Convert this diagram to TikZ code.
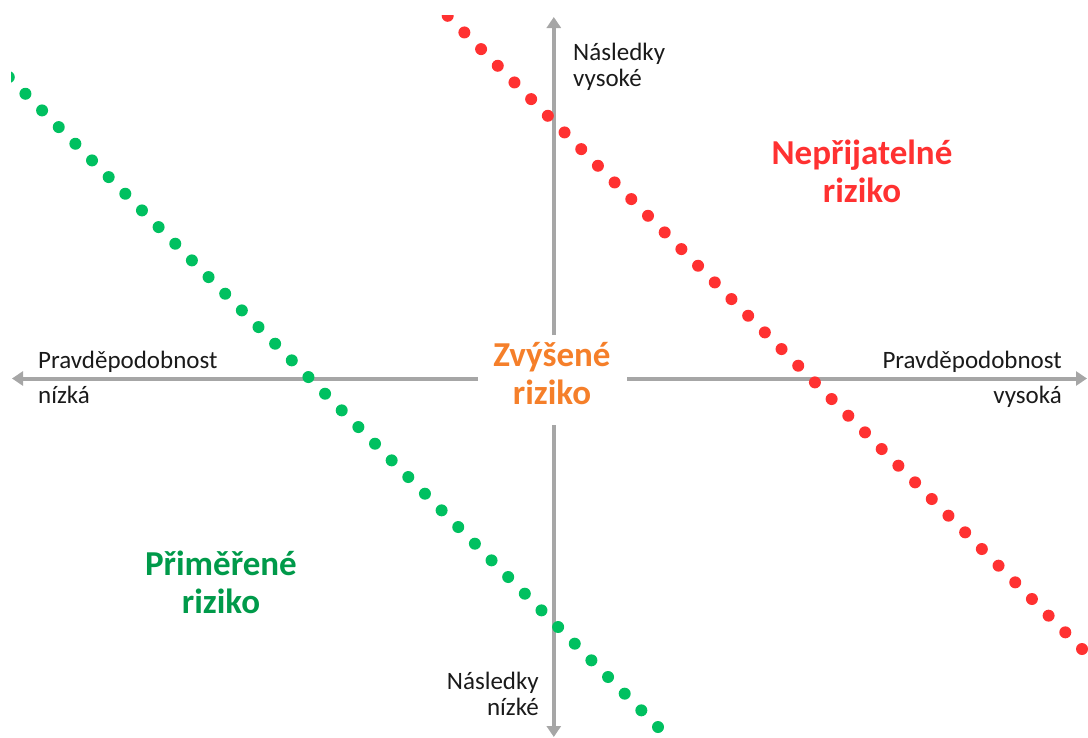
\documentclass[tikz,border=0pt]{standalone}
\usepackage{fontspec}
\setmainfont{Carlito}
\usetikzlibrary{arrows.meta,calc}
\definecolor{axisgray}{HTML}{A6A6A6}
\definecolor{riskred}{HTML}{FF3131}
\definecolor{dotgreen}{HTML}{00C060}
\definecolor{textgreen}{HTML}{009A4A}
\definecolor{riskorange}{HTML}{F57F2A}
\definecolor{labelblack}{HTML}{1A1A1A}
\begin{document}
\begin{tikzpicture}[x=1pt,y=-1pt,
  axis/.style={draw=axisgray,line width=4pt,-{Triangle[length=11pt,width=14pt]}},
  reddot/.style={fill=riskred},
  greendot/.style={fill=dotgreen},
  smalllabel/.style={inner sep=0pt,text=labelblack,font=\fontsize{25}{26}\selectfont},
  biglabel/.style={inner sep=0pt,font=\bfseries\fontsize{35}{38}\selectfont}]
\useasboundingbox (0,0) rectangle (1088,737);
% axis coordinates
\coordinate (L) at (12,378.5);
\coordinate (R) at (1087,378.5);
\coordinate (T) at (553.8,17);
\coordinate (B) at (553.8,737);
\coordinate (hl) at (478,378.5);
\coordinate (hr) at (627,378.5);
\coordinate (vt) at (553.8,335);
\coordinate (vb) at (553.8,425);
\draw[axis] (hl) -- (L);
\draw[axis] (hr) -- (R);
\draw[axis] (vt) -- (T);
\draw[axis] (vb) -- (B);
% dotted boundary lines
\coordinate (r0) at (447.7,15.8);
\coordinate (r1) at (1082,649);
\coordinate (g0) at (8.8,77.1);
\coordinate (g1) at (658,727);
\begin{scope}
\clip (11,15.5) rectangle (1088,737);
\foreach \i in {0,...,38} \fill[reddot] ($(r0)!{\i/38}!(r1)$) circle (6pt);
\foreach \i in {0,...,39} \fill[greendot] ($(g0)!{\i/39}!(g1)$) circle (6pt);
\end{scope}
% axis labels
\node[smalllabel,anchor=base west] (topl) at (573,60)
  {\begin{tabular}[t]{@{}l@{}}Následky\\vysoké\end{tabular}};
\node[smalllabel,anchor=base east] (botl) at (539,689)
  {\begin{tabular}[t]{@{}r@{}}Následky\\nízké\end{tabular}};
\node[smalllabel,font=\fontsize{25}{35}\selectfont,anchor=base west] (leftl) at (38,368)
  {\begin{tabular}[t]{@{}l@{}}Pravděpodobnost\\nízká\end{tabular}};
\node[smalllabel,font=\fontsize{25}{35}\selectfont,anchor=base east] (rightl) at (1062,368)
  {\begin{tabular}[t]{@{}r@{}}Pravděpodobnost\\vysoká\end{tabular}};
% region labels
\node[biglabel,text=riskred,anchor=base] (unacc) at (862,164)
  {\begin{tabular}[t]{@{}c@{}}Nepřijatelné\\riziko\end{tabular}};
\node[biglabel,text=riskorange,anchor=base] (raised) at (552,366)
  {\begin{tabular}[t]{@{}c@{}}Zvýšené\\riziko\end{tabular}};
\node[biglabel,text=textgreen,anchor=base] (adequate) at (221,575)
  {\begin{tabular}[t]{@{}c@{}}Přiměřené\\riziko\end{tabular}};
\end{tikzpicture}
\end{document}
